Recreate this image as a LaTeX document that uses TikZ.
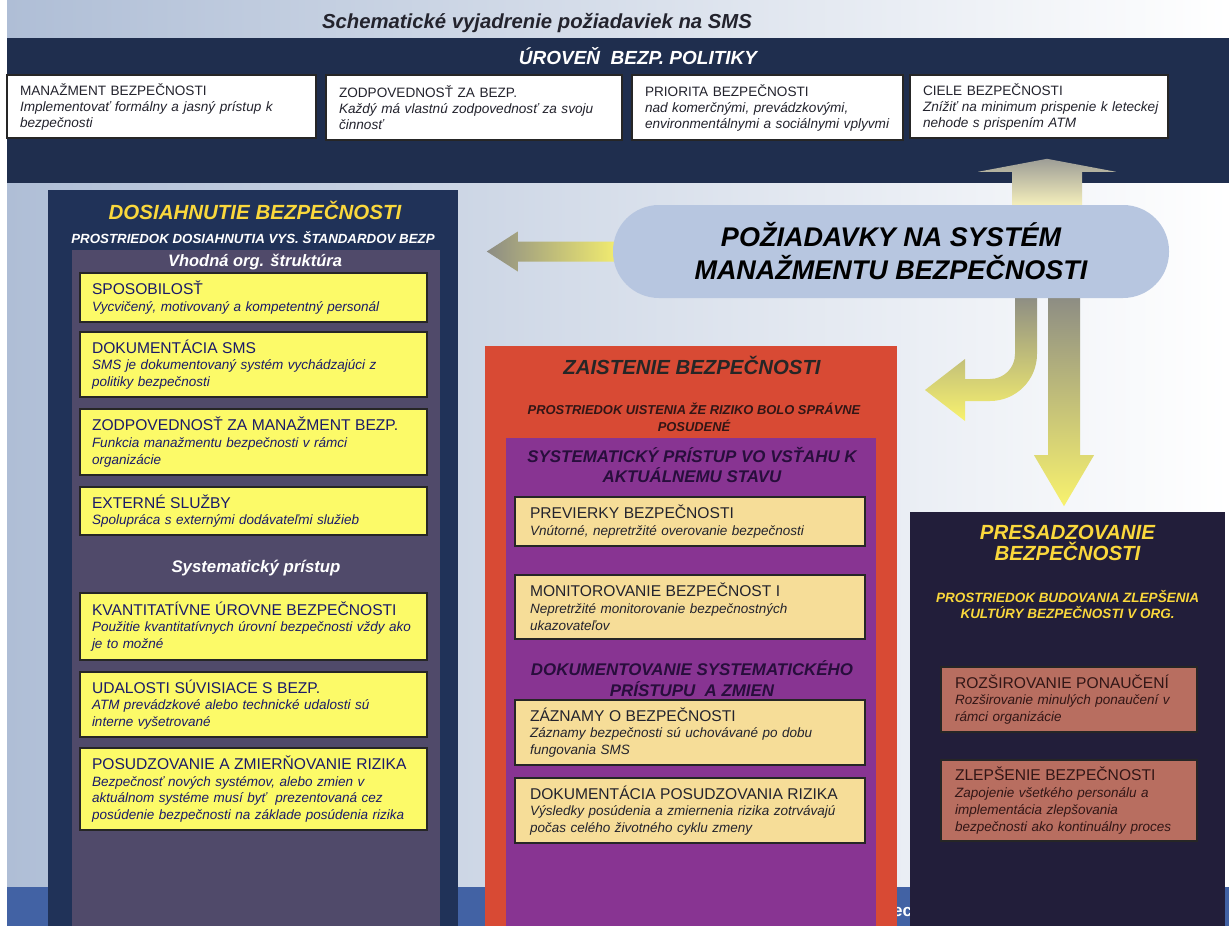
\documentclass[tikz,border=0pt]{standalone}
\usepackage{fontspec}
\setmainfont{Liberation Sans}
\usetikzlibrary{calc}
\definecolor{band_blue}{RGB}{31,46,78}
\definecolor{col_blue}{RGB}{32,50,88}
\definecolor{col_grey}{RGB}{80,74,106}
\definecolor{box_yellow}{RGB}{252,250,104}
\definecolor{col_red}{RGB}{216,74,52}
\definecolor{col_purple}{RGB}{136,52,146}
\definecolor{box_beige}{RGB}{246,221,152}
\definecolor{col_night}{RGB}{34,30,58}
\definecolor{box_salmon}{RGB}{184,110,96}
\definecolor{pill_blue}{RGB}{183,198,224}
\definecolor{title_yellow}{RGB}{250,216,60}
\definecolor{strip_blue}{RGB}{66,98,164}
\definecolor{bg_left}{RGB}{175,190,214}
\definecolor{bg_mid}{RGB}{228,233,242}
\definecolor{arrow_grey}{RGB}{140,140,132}
\definecolor{arrow_yellow}{RGB}{248,242,110}
\definecolor{arrow_pale}{RGB}{250,244,190}
\definecolor{head_navy}{RGB}{26,26,104}
\definecolor{text_dark}{RGB}{35,35,45}
\definecolor{text_brown}{RGB}{50,22,22}
\definecolor{text_plum}{RGB}{40,14,60}

\pgfdeclarelayer{back}
\pgfdeclarelayer{mid}
\pgfsetlayers{back,mid,main}

% heading line and description lines of a card
\newcommand{\hd}[1]{{\fontsize{15.6}{16.8}\selectfont #1}}
\newcommand{\ds}[1]{{\itshape #1}}

\begin{document}
\begin{tikzpicture}[x=1pt,y=-1pt]
    \tikzstyle{panel}=[anchor=north west, inner sep=0pt, outer sep=0pt]
    \tikzstyle{card}=[panel, draw=black!85, line width=1.1pt, align=left, font=\fontsize{13.5}{16.8}\selectfont]
    \tikzstyle{topcard}=[card, fill=white, inner xsep=13pt, text=text_dark, font=\fontsize{13.6}{16}\selectfont]
    \tikzstyle{ycard}=[card, fill=box_yellow, inner xsep=12pt, minimum width=347pt, text width=323pt, text=head_navy]
    \tikzstyle{bcard}=[card, fill=box_beige, inner xsep=15pt, minimum width=350pt, text width=320pt, text=text_dark]
    \tikzstyle{scard}=[card, fill=box_salmon, inner xsep=14pt, minimum width=256pt, text width=228pt, text=text_brown]
    \tikzstyle{ttl}=[align=center, inner sep=0pt]
    \useasboundingbox (0,0) rectangle (1229,926);

    % page, bands and columns
    \begin{pgfonlayer}{back}
      \fill[white] (0,0) rectangle (1229,926);
      \shade[left color=bg_left, middle color=bg_mid, right color=white] (7,0) rectangle (1229,887);
      \fill[strip_blue] (7,887) rectangle (1229,926);
      \node[text=white, font=\bfseries\fontsize{17}{17}\selectfont, anchor=base west, inner sep=0pt] (ec) at (893,916) {ec};
      \node[panel, fill=band_blue, minimum width=1222pt, minimum height=145pt] (band) at (7,38) {};
      \node[panel, fill=col_blue, minimum width=410pt, minimum height=736pt] (achcol) at (48,190) {};
      \node[panel, fill=col_grey, minimum width=368pt, minimum height=676pt] (achin) at (72,250) {};
      \node[panel, fill=col_red, minimum width=412pt, minimum height=580pt] (asrcol) at (485,346) {};
      \node[panel, fill=col_purple, minimum width=370pt, minimum height=488pt] (asrin) at (506,438) {};
      \node[panel, fill=col_night, minimum width=315pt, minimum height=414pt] (promcol) at (910,512) {};
    \end{pgfonlayer}

    \node[ttl, text=text_dark, font=\bfseries\itshape\fontsize{20.3}{21}\selectfont] (head) at (537,23) {Schematické vyjadrenie požiadaviek na SMS};

    % policy level
    \node[ttl, text=white, font=\bfseries\itshape\fontsize{19}{20}\selectfont] (polttl) at (638,56) {ÚROVEŇ\ \ BEZP. POLITIKY};
    \node[topcard, minimum width=309pt, minimum height=63pt, text width=283pt] (mgmt) at (7,75) {MANAŽMENT BEZPEČNOSTI\\ \ds{Implementovať formálny a jasný prístup k\\ bezpečnosti}};
    \node[topcard, minimum width=296pt, minimum height=65pt, text width=270pt] (resp) at (326,75) {ZODPOVEDNOSŤ ZA BEZP.\\ \ds{Každý má vlastnú zodpovednosť za svoju\\ činnosť}};
    \node[topcard, minimum width=271pt, minimum height=65pt, text width=245pt] (prio) at (632,75) {PRIORITA BEZPEČNOSTI\\ \ds{nad komerčnými, prevádzkovými,\\ environmentálnymi a sociálnymi vplyvmi}};
    \node[topcard, minimum width=258pt, minimum height=63pt, text width=232pt] (goal) at (910,75) {CIELE BEZPEČNOSTI\\ \ds{\mbox{Znížiť na minimum prispenie k leteckej}\\ nehode s prispením ATM}};

    % requirements
    \node[fill=pill_blue, rounded corners=46pt, minimum width=556pt, minimum height=93pt, inner sep=0pt, align=center, text=black, font=\bfseries\itshape\fontsize{27}{33}\selectfont] (req) at (891,251.5) {POŽIADAVKY NA SYSTÉM\\ MANAŽMENTU BEZPEČNOSTI};

    % achievement
    \node[ttl, text=title_yellow, font=\bfseries\itshape\fontsize{20.5}{22}\selectfont] (achttl) at (255,210) {DOSIAHNUTIE BEZPEČNOSTI};
    \node[ttl, text=white, font=\bfseries\itshape\fontsize{13.3}{14}\selectfont] (achsub) at (253,238) {PROSTRIEDOK DOSIAHNUTIA VYS. ŠTANDARDOV BEZP};
    \node[ttl, text=white, font=\bfseries\itshape\fontsize{16.5}{18}\selectfont] (achorg) at (255,262) {Vhodná org. štruktúra};
    \node[ycard, minimum height=49pt] (skill) at (80,273) {\hd{SPOSOBILOSŤ}\\ \ds{Vycvičený, motivovaný a kompetentný personál}};
    \node[ycard, minimum height=65pt] (smsdoc) at (80,332) {\hd{DOKUMENTÁCIA SMS}\\ \ds{SMS je dokumentovaný systém vychádzajúci z\\ politiky bezpečnosti}};
    \node[ycard, minimum height=66pt] (mgmtresp) at (80,409) {\hd{ZODPOVEDNOSŤ ZA MANAŽMENT BEZP.}\\ \ds{Funkcia manažmentu bezpečnosti v rámci\\ organizácie}};
    \node[ycard, minimum height=48pt] (extsrv) at (80,487) {\hd{EXTERNÉ SLUŽBY}\\ \ds{Spolupráca s externými dodávateľmi služieb}};
    \node[ttl, text=white, font=\bfseries\itshape\fontsize{16.8}{18}\selectfont] (achsys) at (256,568) {Systematický prístup};
    \node[ycard, minimum height=67pt] (quant) at (80,593) {\hd{KVANTITATÍVNE ÚROVNE BEZPEČNOSTI}\\ \ds{Použitie kvantitatívnych úrovní bezpečnosti vždy ako\\ je to možné}};
    \node[ycard, minimum height=65pt] (events) at (80,672) {\hd{UDALOSTI SÚVISIACE S BEZP.}\\ \ds{ATM prevádzkové alebo technické udalosti sú\\ interne vyšetrované}};
    \node[ycard, minimum height=82pt] (risk) at (80,748) {\hd{POSUDZOVANIE A ZMIERŇOVANIE RIZIKA}\\ \ds{Bezpečnosť nových systémov, alebo zmien v\\ aktuálnom systéme musí byť\ \ prezentovaná cez\\ posúdenie bezpečnosti na základe posúdenia rizika}};

    % assurance
    \node[ttl, text=black!85, font=\bfseries\itshape\fontsize{20.4}{21}\selectfont] (asrttl) at (692,365) {ZAISTENIE BEZPEČNOSTI};
    \node[ttl, text=text_brown, font=\bfseries\itshape\fontsize{12.9}{17}\selectfont] (asrsub) at (694,417) {PROSTRIEDOK UISTENIA ŽE RIZIKO BOLO SPRÁVNE\\ POSUDENÉ};
    \node[ttl, text=text_plum, font=\bfseries\itshape\fontsize{16.9}{20}\selectfont] (asrsys) at (692,465) {SYSTEMATICKÝ PRÍSTUP VO VSŤAHU K\\ AKTUÁLNEMU STAVU};
    \node[bcard, minimum height=49pt] (audit) at (515,497) {\hd{PREVIERKY BEZPEČNOSTI}\\ \ds{Vnútorné, nepretržité overovanie bezpečnosti}};
    \node[bcard, minimum height=64pt] (monitor) at (515,575) {\hd{MONITOROVANIE BEZPEČNOST I}\\ \ds{Nepretržité monitorovanie bezpečnostných\\ ukazovateľov}};
    \node[ttl, text=text_plum, font=\bfseries\itshape\fontsize{16.9}{21}\selectfont] (asrdoc) at (692,678.5) {DOKUMENTOVANIE SYSTEMATICKÉHO\\ PRÍSTUPU\ \ A ZMIEN};
    \node[bcard, minimum height=65pt] (records) at (515,700) {\hd{ZÁZNAMY O BEZPEČNOSTI}\\ \ds{Záznamy bezpečnosti sú uchovávané po dobu\\ fungovania SMS}};
    \node[bcard, minimum height=65pt] (riskdoc) at (515,778) {\hd{DOKUMENTÁCIA POSUDZOVANIA RIZIKA}\\ \ds{Výsledky posúdenia a zmiernenia rizika zotrvávajú\\ počas celého životného cyklu zmeny}};

    % promotion
    \node[ttl, text=title_yellow, font=\bfseries\itshape\fontsize{20.5}{21}\selectfont] (promttl) at (1067.5,542.5) {PRESADZOVANIE\\ BEZPEČNOSTI};
    \node[ttl, text=title_yellow, font=\bfseries\itshape\fontsize{13.5}{16}\selectfont] (promsub) at (1067.5,605) {PROSTRIEDOK BUDOVANIA ZLEPŠENIA\\ KULTÚRY BEZPEČNOSTI V ORG.};
    \node[scard, minimum height=65pt] (lessons) at (941,667) {\hd{ROZŠIROVANIE PONAUČENÍ}\\ \ds{Rozširovanie minulých ponaučení v\\ rámci organizácie}};
    \node[scard, minimum height=81pt] (improve) at (941,760) {\hd{ZLEPŠENIE BEZPEČNOSTI}\\ \ds{Zapojenie všetkého personálu a\\ implementácia zlepšovania\\ bezpečnosti ako kontinuálny proces}};

    % block arrows out of the requirements
    \begin{pgfonlayer}{mid}
      \shade[left color=arrow_grey, right color=arrow_yellow]
        ($(req.west)+(12,-10)$) -- ++(-107,0) -- ++(0,-10) -- ++(-31,20) -- ++(31,20) -- ++(0,-10) -- ++(107,0) -- cycle;
      \shade[top color=arrow_grey!85, bottom color=arrow_pale]
        ($(req.north)+(121,3)$) -- ++(0,-36) -- ++(-34,0) -- ++(69,-13) -- ++(69,13) -- ++(-34,0) -- ++(0,36) -- cycle;
      \shade[top color=arrow_grey, bottom color=arrow_yellow]
        ($(req.south)+(157,-3)$) -- ++(0,160) -- ++(-14,0) -- ++(30,51) -- ++(30,-51) -- ++(-14,0) -- ++(0,-160) -- cycle;
      \shade[top color=arrow_grey, bottom color=arrow_yellow]
        ($(req.south)+(124,-3)$) -- ++(22,0) -- (1037,354) .. controls (1037,380) and (1016,401) .. (990,401)
        -- (965,401) -- (965,421) -- (925,390) -- (965,359) -- (965,379) -- (990,379)
        .. controls (1004,379) and (1015,368) .. (1015,354) -- cycle;
    \end{pgfonlayer}
\end{tikzpicture}
\end{document}
